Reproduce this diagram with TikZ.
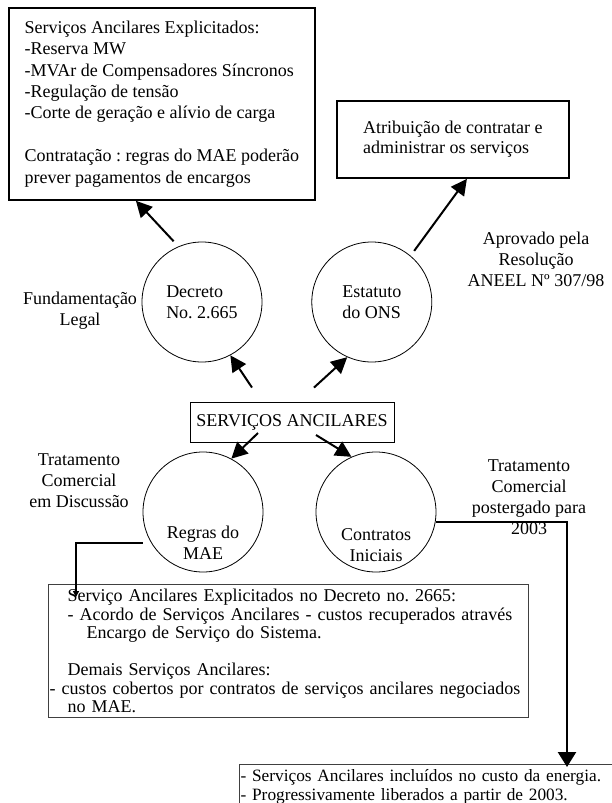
\documentclass[tikz,border=0pt]{standalone}
\usepackage{fontspec}
\setmainfont{Liberation Serif}
\usetikzlibrary{positioning, arrows.meta}
\frenchspacing

\begin{document}
\begin{tikzpicture}[x=1bp, y=-1bp, font=\fontsize{18bp}{20.5bp}\selectfont,
    caixa/.style={draw, line width=1.8bp, align=left, anchor=north west, inner sep=0pt},
    fina/.style={draw=black!75, line width=1.2bp, align=left, anchor=north west, inner xsep=1bp},
    circ/.style={draw, circle, line width=0.8bp, minimum size=120bp, inner sep=0pt},
    rot/.style={align=center, font=\fontsize{18bp}{21bp}\selectfont},
    seta/.style={-{Triangle[length=16bp,width=16bp]}, line width=2bp},
    elbow/.style={line width=2.4bp}]
    \useasboundingbox (0,0) rectangle (612,803);
    \clip (0,0) rectangle (612,803);

    \node[caixa, minimum width=306bp, minimum height=192bp, font=\fontsize{18bp}{21.4bp}\selectfont] (explic) at (8,7)
        {Serviços Ancilares Explicitados:\\-Reserva MW\\-MVAr de Compensadores Síncronos\\-Regulação de tensão\\-Corte de geração e alívio de carga\\[21.4bp]Contratação : regras do MAE poderão\\prever pagamentos de encargos};
    \node[caixa, minimum width=232bp, minimum height=77bp] (atrib) at (336,100)
        {Atribuição de contratar e\\administrar os serviços};

    \node[circ, align=left] (decreto) at (202,302) {Decreto\\No. 2.665};
    \node[circ, align=left, right=49bp of decreto] (estatuto) {Estatuto\\do ONS};
    \node[draw, line width=0.9bp, minimum width=204bp, minimum height=40bp, inner sep=0pt] (servicos) at (292,422) {SERVIÇOS ANCILARES};
    \node[circ, label={[rot, yshift=-31bp]center:{Regras do\\MAE}}] (regras) at (203,512) {};
    \node[circ, label={[rot, yshift=-33bp]center:{Contratos\\Iniciais}}] (contratos) at (376,512) {};

    \node[rot] (fund) at (80,311) {Fundamentação\\Legal};
    \node[rot] (aprov) at (536,259) {Aprovado pela\\Resolução\\ANEEL Nº 307/98};
    \node[rot] (tratDisc) at (79,481) {Tratamento\\Comercial\\em Discussão};
    \node[rot] (tratPost) at (529,497) {Tratamento\\Comercial\\postergado para\\2003};

    \node[fina, text width=478bp, minimum height=133bp, font=\fontsize{18bp}{18.5bp}\selectfont] (detalhe) at (48,584)
        {\hspace*{18bp}Serviço Ancilares Explicitados no Decreto no. 2665:\\
         \hspace*{18bp}- Acordo de Serviços Ancilares - custos recuperados através\\
         \hspace*{37bp}Encargo de Serviço do Sistema.\\[18.5bp]
         \hspace*{18bp}Demais Serviços Ancilares:\\
         - custos cobertos por contratos de serviços ancilares negociados\\
         \hspace*{18bp}no MAE.};
    \node[fina, text width=380bp, inner ysep=5bp, font=\fontsize{17.3bp}{18.5bp}\selectfont] (inclui) at (239,764)
        {- Serviços Ancilares incluídos no custo da energia.\\- Progressivamente liberados a partir de 2003.};

    \coordinate (pMid) at (76,597);
    \coordinate (pIncl) at (567,767);

    \draw[seta, shorten <=7bp] (decreto.113) -- ([xshift=-26bp]explic.south);
    \draw[seta, shorten <=6bp] (estatuto.50) -- ([xshift=14bp]atrib.south);
    \draw[seta] ([shift={(-40bp,14bp)}]servicos.north) -- (decreto.298);
    \draw[seta] ([shift={(22bp,14bp)}]servicos.north) -- (estatuto.246);
    \draw[seta] ([shift={(-34bp,-11bp)}]servicos.center) -- (regras.62);
    \draw[seta] ([shift={(24bp,-13bp)}]servicos.center) -- (contratos.114);
    \draw[elbow, -{Triangle[length=6bp,width=6bp]}] ([yshift=-31bp]regras.west) -| (pMid);
    \draw[elbow, -{Triangle[length=15bp,width=18bp]}] ([yshift=-10bp]contratos.east) -| (pIncl);
\end{tikzpicture}
\end{document}
